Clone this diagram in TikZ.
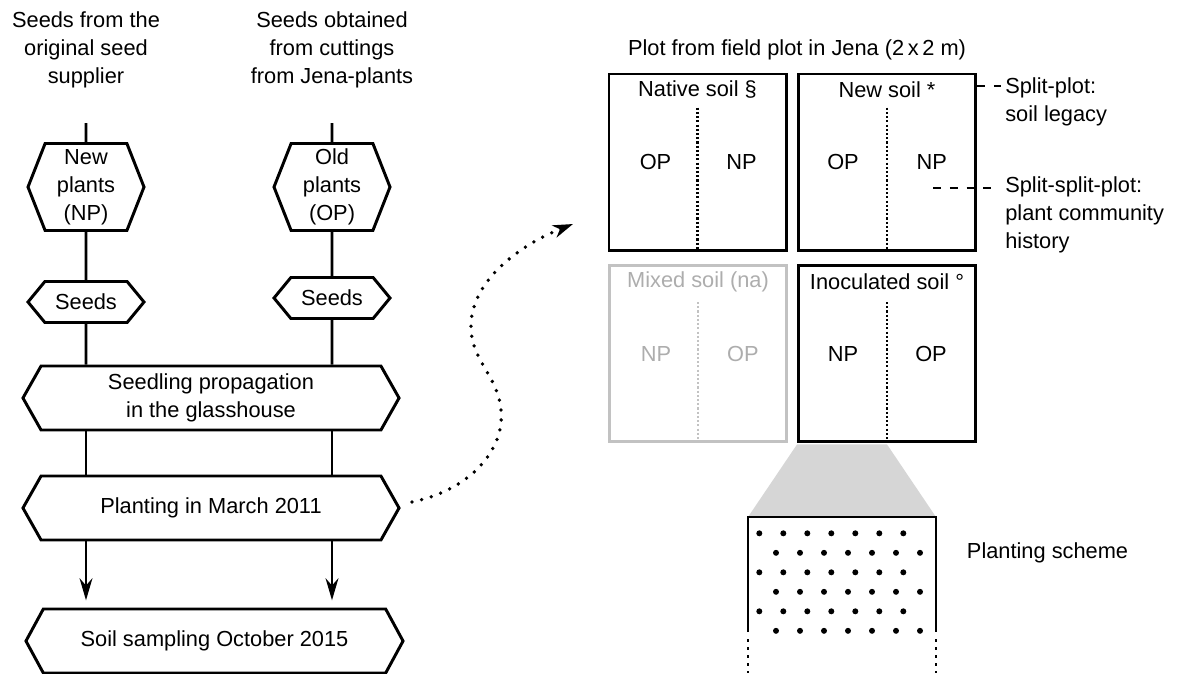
\documentclass[tikz,border=0pt]{standalone}
\usepackage{fontspec}
\setmainfont{Liberation Sans}
\usepackage{tikz}
\usetikzlibrary{positioning,shapes.symbols,arrows.meta}
\definecolor{naplot}{HTML}{C2C2C2}
\definecolor{natext}{HTML}{ADADAD}
\definecolor{zoomfill}{HTML}{D6D6D6}
\tikzset{
  stage/.style={draw, signal, signal to=west and east, signal from=nowhere, line width=2.1pt, align=center, inner sep=0pt, fill=white},
  group/.style={stage, minimum width=2.9cm, minimum height=2.175cm, signal pointer angle=137},
  seedbox/.style={stage, minimum width=2.9cm, minimum height=1.025cm, signal pointer angle=101},
  widestage/.style={stage, minimum width=9.4cm, minimum height=1.6cm, signal pointer angle=121},
  plotbox/.style={draw, line width=2.1pt, minimum width=4.425cm, minimum height=4.4cm, inner sep=0pt},
  divider/.style={line width=1.9pt, dash pattern=on 1.5pt off 1.5pt},
  link/.style={line width=2.1pt},
  arrow/.style={link, -{Stealth[length=5.5mm, width=3.2mm, inset=1.8mm]}},
  annot/.style={line width=2.1pt, dash pattern=on 0.2cm off 0.22cm},
  note/.style={align=left, anchor=west, inner sep=0pt},
  jump/.style={line width=2.7pt, line cap=round, dash pattern=on 0pt off 0.25cm, -{Stealth[length=5mm, width=3.2mm, inset=1.5mm]}},
  schemegap/.style={line width=2.1pt, dash pattern=on 0.07cm off 0.13cm}
}
\begin{document}
\begin{tikzpicture}[x=0.025cm, y=-0.025cm, font=\fontsize{15.5}{20}\selectfont]
  \useasboundingbox (0,0) rectangle (1182,673);

  % where the two plant groups come from
  \node[align=center] (srcnew) at (86,50) {Seeds from the\\original seed\\supplier};
  \node[align=center] (srcold) at (332,50) {Seeds obtained\\from cuttings\\from Jena-plants};
  \coordinate (newin) at (86,123);
  \coordinate (oldin) at (332,123);

  \node[group] (newpl) at (86,187) {New\\plants\\(NP)};
  \node[group] (oldpl) at (332,187) {Old\\plants\\(OP)};
  \node[seedbox] (newseed) at (86,302) {Seeds};
  \node[seedbox] (oldseed) at (332,298) {Seeds};
  \node[widestage] (prop) at (211,398) {Seedling propagation\\in the glasshouse};
  \node[widestage] (plant) at (211,508) {Planting in March 2011};
  \node[widestage, minimum width=9.425cm, signal pointer angle=123] (soil) at (214.5,641) {Soil sampling October 2015};

  \draw[link] (newin) -- (newpl);
  \draw[link] (oldin) -- (oldpl);
  \draw[link] (newpl) -- (newseed);
  \draw[link] (oldpl) -- (oldseed);
  \draw[link] (newseed) -- (newseed |- prop.north);
  \draw[link] (oldseed) -- (oldseed |- prop.north);
  \draw[link] (prop.south -| newseed) -- (plant.north -| newseed);
  \draw[link] (prop.south -| oldseed) -- (plant.north -| oldseed);
  \draw[arrow, shorten >=0.18cm] (plant.south -| newseed) -- (soil.north -| newseed);
  \draw[arrow, shorten >=0.18cm] (plant.south -| oldseed) -- (soil.north -| oldseed);

  % field plot
  \node (plottitle) at (797,50) {Plot from field plot in Jena (2\,x\,2~m)};
  \node[plotbox] (native) at (697.5,162) {};
  \node[plotbox] (newsoil) at (887,162) {};
  \node[plotbox, draw=naplot] (mixed) at (698,353.5) {};
  \node[plotbox] (inoc) at (887,353.5) {};

  \node (nativehead) at ([yshift=-0.42cm]native.north) {Native soil \S};
  \node (nativeop) at ([xshift=-1.05cm]native.center) {OP};
  \node (nativenp) at ([xshift=1.1cm]native.center) {NP};
  \node (newhead) at ([yshift=-0.42cm]newsoil.north) {New soil *};
  \node (newop) at ([xshift=-1.1cm]newsoil.center) {OP};
  \node (newnp) at ([xshift=1.12cm]newsoil.center) {NP};
  \node[text=natext] (mixedhead) at ([yshift=-0.45cm]mixed.north) {Mixed soil (na)};
  \node[text=natext] (mixednp) at ([xshift=-1.05cm]mixed.center) {NP};
  \node[text=natext] (mixedop) at ([xshift=1.12cm]mixed.center) {OP};
  \node (inochead) at ([yshift=-0.45cm]inoc.north) {Inoculated soil °};
  \node (inocnp) at ([xshift=-1.1cm]inoc.center) {NP};
  \node (inocop) at ([xshift=1.1cm]inoc.center) {OP};

  \draw[divider] ([yshift=-0.88cm]native.north) -- (native.south);
  \draw[divider] ([yshift=-0.88cm]newsoil.north) -- (newsoil.south);
  \draw[divider, naplot] ([yshift=-0.95cm]mixed.north) -- (mixed.south);
  \draw[divider] ([yshift=-0.95cm]inoc.north) -- (inoc.south);

  % design levels
  \node[note] (splitplot) at (1005,102) {Split-plot:\\soil legacy};
  \node[note] (splitsplit) at (1005,215) {Split-split-plot:\\plant community\\history};
  \coordinate (spend) at (1001,86);
  \coordinate (sspstart) at (933,188);
  \coordinate (sspend) at (991,188);
  \draw[annot] (newsoil.east |- spend) -- (spend);
  \draw[annot] (sspstart) -- (sspend);

  % planting scheme
  \coordinate (schemeNW) at (748,517);
  \coordinate (schemeNE) at (936,517);
  \fill[zoomfill] ([yshift=-1pt]inoc.south west) -- ([yshift=-1pt]inoc.south) -- (schemeNE) -- (schemeNW) -- cycle;
  \draw[link] (748,632) -- (schemeNW) -- (schemeNE) -- (936,632);
  \draw[schemegap] (748,639) -- (748,673);
  \draw[schemegap] (936,639) -- (936,673);
  \foreach \r in {0,2,4}
    \foreach \c in {0,...,6}
      \fill (759.3+24*\c, 533.3+19.5*\r) circle[radius=0.075cm];
  \foreach \r in {1,3,5}
    \foreach \c in {0,...,6}
      \fill (776+24*\c, 533.3+19.5*\r) circle[radius=0.075cm];
  \node[anchor=west] (schemelabel) at (962,553) {Planting scheme};

  \coordinate (jumpend) at (573,224);
  \draw[jump] ([xshift=0.28cm, yshift=0.15cm]plant.east) .. controls (470,490) and (505,450) .. (501,410)
    .. controls (498,375) and (470,360) .. (471,325) .. controls (472,280) and (520,245) .. (jumpend);
\end{tikzpicture}
\end{document}
